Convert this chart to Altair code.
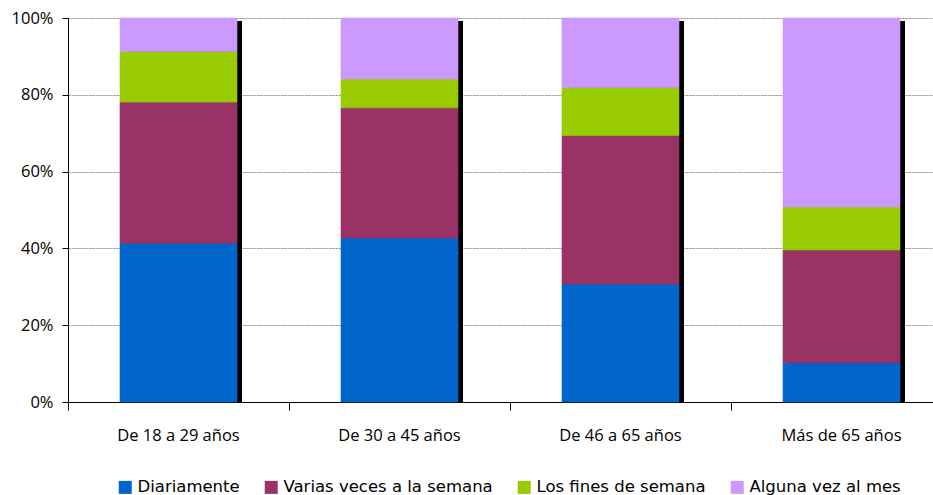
import altair as alt
import pandas as pd

ages = ["De 18 a 29 años", "De 30 a 45 años", "De 46 a 65 años", "Más de 65 años"]
series = ["Diariamente", "Varias veces a la semana", "Los fines de semana", "Alguna vez al mes"]
colors = ["#0066CC", "#993366", "#99CC00", "#CC99FF"]

diariamente = [41.3, 42.7, 30.7, 10.2]
varias = [36.8, 33.9, 38.7, 29.4]
fines = [13.2, 7.5, 12.5, 11.2]
alguna = [8.7, 15.9, 18.1, 49.2]

values = [diariamente, varias, fines, alguna]
rows = []
for si, (s, vals) in enumerate(zip(series, values)):
    for a, v in zip(ages, vals):
        rows.append({"age": a, "serie": s, "value": v, "idx": si})
df = pd.DataFrame(rows)

xscale = alt.Scale(domain=ages, range=[0, 884], paddingInner=0, paddingOuter=0)
xaxis = alt.Axis(
    title=None, labelAngle=0, bandPosition=0, tickSize=8, tickColor="black",
    domainColor="black", labelFont="Open Sans", labelFontSize=16.5,
    labelColor="black", labelPadding=17, grid=False,
)
yscale = alt.Scale(domain=[0, 100], nice=False)
yaxis = alt.Axis(
    title=None, values=[0, 20, 40, 60, 80, 100], labelExpr="datum.value + '%'",
    tickSize=6, tickColor="black", domainColor="black", labelFont="Open Sans",
    labelFontSize=16.5, labelColor="black", labelPadding=9, grid=True,
    gridColor="#8a8a8a", gridDash=[2, 1], gridWidth=1,
)

shadow = alt.Chart(df).mark_bar(
    color="black", size=117, xOffset=5, x2Offset=5, yOffset=3, clip=True
).encode(
    x=alt.X("age:N", scale=xscale, axis=xaxis, sort=ages),
    y=alt.Y("sum(value):Q", scale=yscale, axis=yaxis, stack=None),
)

cscale = alt.Scale(domain=series, range=colors)
bars = alt.Chart(df).mark_bar(size=117, strokeWidth=0.6).encode(
    x=alt.X("age:N", scale=xscale, axis=xaxis, sort=ages),
    y=alt.Y("value:Q", scale=yscale, axis=yaxis, stack="zero"),
    color=alt.Color(
        "serie:N",
        scale=cscale,
        legend=alt.Legend(
            orient="none", legendX=49, legendY=461, direction="horizontal",
            title=None, symbolType="square", symbolSize=169, symbolStrokeWidth=0,
            symbolOpacity=1, labelFont="DejaVu Sans", labelFontSize=16.5,
            labelColor="black", labelOffset=4, columnPadding=23, labelLimit=0,
        ),
    ),
    stroke=alt.Stroke("serie:N", scale=cscale, legend=None),
    order=alt.Order("idx:Q", sort="ascending"),
)

chart = alt.layer(shadow, bars).properties(
    width=865, height=384,
    padding={"left": 68, "top": 18, "right": 0, "bottom": 93},
    autosize=alt.AutoSizeParams(type="none"),
    background="white",
).configure_view(stroke=None)

chart.save("out.html", embed_options={"renderer": "svg", "actions": False})
